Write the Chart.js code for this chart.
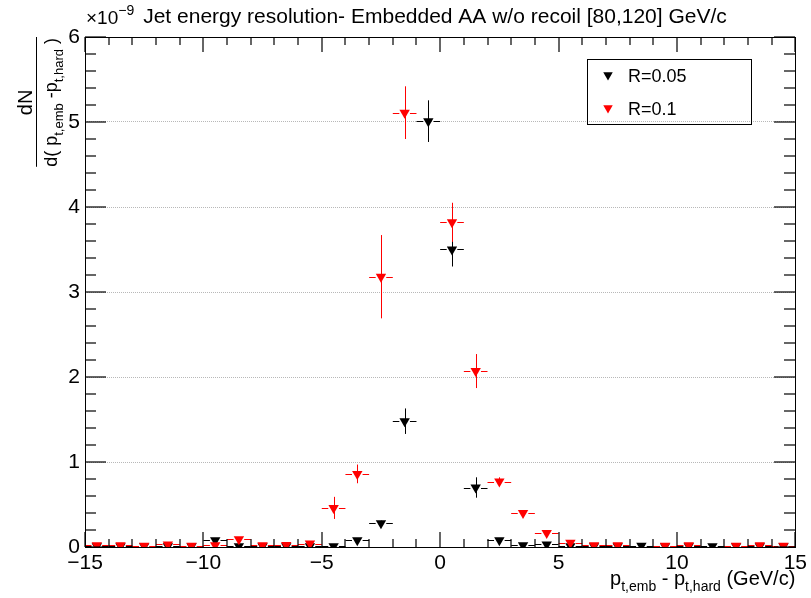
<!DOCTYPE html>
<html>
<head>
<meta charset="utf-8">
<script src="https://cdn.jsdelivr.net/npm/chart.js@4.4.1/dist/chart.umd.min.js"></script>
<style>
  html, body { margin: 0; padding: 0; background: #fff; }
  #c { display: block; }
</style>
</head>
<body>
<canvas id="c" width="811" height="598"></canvas>
<script>
// bin centres (GeV/c), bins are 1 GeV/c wide
const binCenters = [-14.5, -13.5, -12.5, -11.5, -10.5, -9.5, -8.5, -7.5, -6.5, -5.5,
                    -4.5, -3.5, -2.5, -1.5, -0.5, 0.5, 1.5, 2.5, 3.5, 4.5,
                    5.5, 6.5, 7.5, 8.5, 9.5, 10.5, 11.5, 12.5, 13.5, 14.5];
const binHalfWidth = 0.5;

// values in units of 1e-9
const r005 = [0.01, 0.01, 0.01, 0.01, 0.01, 0.08, 0.01, 0.01, 0.01, 0.01,
              0.01, 0.08, 0.28, 1.48, 5.01, 3.50, 0.70, 0.08, 0.02, 0.03,
              0.01, 0.01, 0.01, 0.015, 0.01, 0.01, 0.01, 0.01, 0.01, 0.01];
const r005Err = [0.005, 0.005, 0.005, 0.005, 0.005, 0.01, 0.005, 0.005, 0.005, 0.005,
                 0.005, 0.02, 0.03, 0.15, 0.245, 0.2, 0.12, 0.02, 0.01, 0.01,
                 0.005, 0.005, 0.005, 0.005, 0.005, 0.005, 0.005, 0.005, 0.005, 0.005];
const r01 = [0.02, 0.02, 0.015, 0.03, 0.015, 0.02, 0.09, 0.02, 0.025, 0.04,
             0.46, 0.86, 3.18, 5.11, null, 3.82, 2.07, 0.77, 0.40, 0.165,
             0.05, 0.02, 0.02, null, 0.015, 0.02, null, 0.015, 0.02, 0.015];
const r01Err = [0.005, 0.005, 0.005, 0.005, 0.005, 0.005, 0.02, 0.005, 0.005, 0.01,
                0.13, 0.11, 0.49, 0.31, null, 0.23, 0.2, 0.05, 0.03, 0.03,
                0.01, 0.005, 0.005, null, 0.005, 0.005, null, 0.005, 0.005, 0.005];

const seriesLabels = ['R=0.05', 'R=0.1'];
const seriesColors = ['#000000', '#ff0000'];

const xMin = -15, xMax = 15, xMajorStep = 5, xMinorStep = 1;
const yMin = 0, yMax = 6, yMajorStep = 1, yMinorStep = 0.2;

const FONT = '"Liberation Sans", Arial, Helvetica, sans-serif';

const toPoints = (vals, errs) => binCenters.map((x, i) => ({ x: x, y: vals[i], err: errs[i] }));

function triDown(ctx, x, y, r, color) {
    ctx.beginPath();
    ctx.moveTo(x - r * 0.866, y - r * 0.5);
    ctx.lineTo(x + r * 0.866, y - r * 0.5);
    ctx.lineTo(x, y + r);
    ctx.closePath();
    ctx.fillStyle = color;
    ctx.fill();
}

// text runs: [text, size, dy]
function runsWidth(ctx, runs) {
    let w = 0;
    runs.forEach(r => { ctx.font = r[1] + 'px ' + FONT; w += ctx.measureText(r[0]).width; });
    return w;
}
function drawRuns(ctx, runs, x, y) {
    runs.forEach(r => {
        ctx.font = r[1] + 'px ' + FONT;
        ctx.fillText(r[0], x, y + (r[2] || 0));
        x += ctx.measureText(r[0]).width;
    });
}

// frame + inward ticks on all four sides, positions from the chart scales
function drawTicks(chart) {
    const ctx = chart.ctx, a = chart.chartArea;
    const xs = chart.scales.x, ys = chart.scales.y;
    const L = Math.round(a.left), R = Math.round(a.right);
    const T = Math.round(a.top), B = Math.round(a.bottom);
    const nx = Math.round((xMax - xMin) / xMinorStep), xPer = Math.round(xMajorStep / xMinorStep);
    const ny = Math.round((yMax - yMin) / yMinorStep), yPer = Math.round(yMajorStep / yMinorStep);
    ctx.save();
    ctx.fillStyle = 'rgba(0,0,0,0.6)';
    for (let i = 0; i <= nx; i++) {
        const len = (i % xPer === 0) ? 15 : 8;
        const px = Math.round(xs.getPixelForValue(xMin + i * xMinorStep));
        ctx.fillRect(px - 1, B - len, 2, len);
        ctx.fillRect(px - 1, T, 2, len);
    }
    for (let i = 0; i <= ny; i++) {
        const len = (i % yPer === 0) ? 21 : 11;
        const py = Math.round(ys.getPixelForValue(yMin + i * yMinorStep));
        ctx.fillRect(L, py - 1, len, 2);
        ctx.fillRect(R - len, py - 1, len, 2);
    }
    ctx.fillStyle = '#000000';
    ctx.fillRect(L, T, R - L + 1, 1);
    ctx.fillRect(L, B, R - L + 1, 1);
    ctx.fillRect(L, T, 1, B - T + 1);
    ctx.fillRect(R, T, 1, B - T + 1);
    ctx.restore();
}

const rootPlugin = {
    id: 'rootStyle',
    beforeDatasetDraw(chart, args) {
        const ds = chart.data.datasets[args.index];
        const ctx = chart.ctx, a = chart.chartArea;
        const xs = chart.scales.x, ys = chart.scales.y;
        const gap = 5.3;
        ctx.save();
        ctx.setLineDash([]);
        ctx.beginPath();
        ctx.rect(a.left, a.top, a.right - a.left, a.bottom - a.top);
        ctx.clip();
        ctx.strokeStyle = ds.borderColor;
        ctx.lineWidth = 1;
        ctx.beginPath();
        ds.data.forEach(p => {
            if (p.y == null) return;
            const px = xs.getPixelForValue(p.x);
            const py = Math.round(ys.getPixelForValue(p.y)) + 0.5;
            const x0 = xs.getPixelForValue(p.x - binHalfWidth);
            const x1 = xs.getPixelForValue(p.x + binHalfWidth);
            ctx.moveTo(x0, py); ctx.lineTo(px - gap, py);
            ctx.moveTo(px + gap, py); ctx.lineTo(x1, py);
            const e = p.err || 0;
            const xx = Math.round(px) + 0.5;
            ctx.moveTo(xx, ys.getPixelForValue(p.y + e));
            ctx.lineTo(xx, ys.getPixelForValue(p.y - e));
        });
        ctx.stroke();
        ctx.restore();
    },
    afterDraw(chart) {
        drawTicks(chart);
        const ctx = chart.ctx, a = chart.chartArea;
        ctx.save();
        ctx.setLineDash([]);
        ctx.fillStyle = '#000';
        ctx.textBaseline = 'alphabetic';

        // title
        ctx.font = '21px ' + FONT;
        ctx.textAlign = 'center';
        ctx.fillText('Jet energy resolution- Embedded AA w/o recoil [80,120] GeV/c', 435, 23);
        ctx.textAlign = 'left';

        // exponent
        drawRuns(ctx, [['\u00d710', 19, 0], ['\u22129', 14, -9]], a.left + 1, 24);

        // x axis title, right aligned to the frame
        const xt = [['p', 20, 0], ['t,emb', 14, 6], [' - ', 20, 0], ['p', 20, 0],
                    ['t,hard', 14, 6], [' (GeV/c)', 20, 0]];
        drawRuns(ctx, xt, a.right - runsWidth(ctx, xt), 585);

        // y axis title: rotated fraction
        ctx.save();
        ctx.rotate(-Math.PI / 2);
        const den = [['d( p', 18, 0], ['t,emb', 13, 6], [' -p', 18, 0], ['t,hard', 13, 6], [' )', 18, 0]];
        const dw = runsWidth(ctx, den);
        const end = -a.top - 1;
        const start = end - dw;
        drawRuns(ctx, den, start, 57);
        ctx.font = '20px ' + FONT;
        ctx.textAlign = 'center';
        ctx.fillText('dN', (start + end) / 2, 32);
        ctx.fillRect(start, 36, dw + 1, 1);
        ctx.restore();

        // legend
        ctx.strokeStyle = '#000';
        ctx.lineWidth = 1;
        ctx.strokeRect(587.5, 59.5, 164, 65);
        ctx.font = '18px ' + FONT;
        ctx.textAlign = 'left';
        seriesLabels.forEach((lab, i) => {
            const cy = 75 + i * 33;
            triDown(ctx, 608, cy, 5.5, seriesColors[i]);
            ctx.fillStyle = '#000';
            ctx.fillText(lab, 628, cy + 7);
        });
        ctx.restore();
    }
};

const datasets = [
    { label: seriesLabels[0], data: toPoints(r005, r005Err), order: 1 },
    { label: seriesLabels[1], data: toPoints(r01, r01Err), order: 0 }
].map((d, i) => Object.assign(d, {
    backgroundColor: seriesColors[i],
    borderColor: seriesColors[i],
    pointStyle: 'triangle',
    pointRotation: 180,
    pointRadius: 6,
    pointBorderWidth: 0,
    showLine: false
}));

const minusFmt = v => String(v).replace('-', '\u2212');

new Chart(document.getElementById('c').getContext('2d'), {
    type: 'scatter',
    data: { datasets: datasets },
    plugins: [rootPlugin],
    options: {
        responsive: false,
        animation: false,
        devicePixelRatio: 1,
        layout: { padding: { left: 0, right: 12, top: 37, bottom: 0 } },
        plugins: { legend: { display: false }, tooltip: { enabled: false }, title: { display: false } },
        scales: {
            x: {
                type: 'linear', min: xMin, max: xMax,
                afterFit: s => { s.height = 51; },
                grid: { display: false, drawTicks: false },
                border: { display: false },
                ticks: { stepSize: xMajorStep, padding: 4, color: '#000', font: { family: FONT, size: 21 },
                         maxRotation: 0, callback: minusFmt }
            },
            y: {
                type: 'linear', min: yMin, max: yMax,
                afterFit: s => { s.width = 85; },
                grid: { color: '#b8b8b8', drawTicks: false },
                border: { display: false, dash: [1, 1] },
                ticks: { stepSize: yMajorStep, padding: 5, color: '#000', font: { family: FONT, size: 21 },
                         callback: minusFmt }
            }
        }
    }
});
</script>
</body>
</html>
